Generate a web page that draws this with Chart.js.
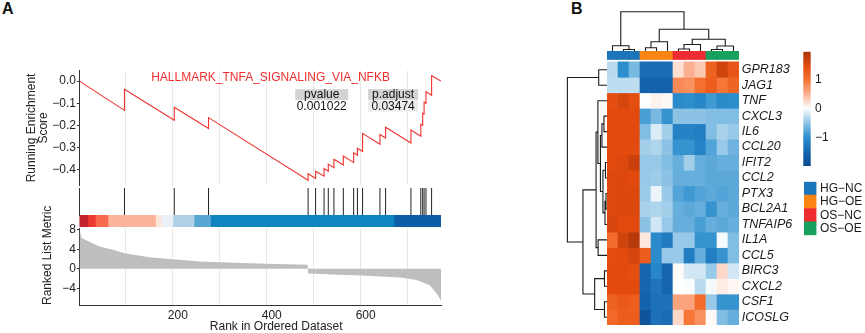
<!DOCTYPE html>
<html>
<head>
  <title>GSEA + heatmap</title>
  <script src="https://cdn.jsdelivr.net/npm/chart.js"></script>
  <style>
    body { margin: 0; background: #fff; }
    #wrap { position: relative; width: 865px; height: 333px; overflow: hidden; background: #fff; }
    canvas { position: absolute; }
    .tag { position: absolute; font: bold 16px 'Liberation Sans', Arial, sans-serif; line-height: 16px; color: #111; }
  </style>
</head>
<body>
<div id="wrap">
  <div class="tag" style="left:2px;top:1px">A</div>
  <div class="tag" style="left:571px;top:1px">B</div>
  <canvas id="es" width="446" height="128" style="left:0;top:60px"></canvas>
  <canvas id="hits" width="446" height="29" style="left:0;top:187px"></canvas>
  <canvas id="cbar" width="446" height="14" style="left:0;top:214px"></canvas>
  <canvas id="metric" width="446" height="143" style="left:0;top:190px"></canvas>
  <canvas id="colTree" width="132" height="52" style="left:607px;top:0"></canvas>
  <canvas id="rowTree" width="48" height="263" style="left:560px;top:62px"></canvas>
  <canvas id="heat" width="200" height="274" style="left:607px;top:51px"></canvas>
  <canvas id="scale" width="40" height="128" style="left:800px;top:45px"></canvas>
  <canvas id="groups" width="65" height="58" style="left:800px;top:180px"></canvas>
</div>

<script>
  // ---- panel A data ----
  const geneSetName = 'HALLMARK_TNFA_SIGNALING_VIA_NFKB';
  const pvalueText = '0.001022';
  const padjustText = '0.03474';
  const rankMin = 1, rankMax = 771;

  // genes of the set (rank in the ordered list) and the running score just before / after each one
  const hitRanks = [97, 203, 276, 488, 504, 522, 531, 543, 563, 585, 593, 604, 641, 653, 707, 728, 732, 735, 739, 751];
  const esBefore = [-0.132, -0.177, -0.214, -0.448, -0.440, -0.429, -0.407, -0.391, -0.379, -0.368, -0.335, -0.318, -0.285, -0.257, -0.279, -0.249, -0.200, -0.149, -0.100, -0.064];
  const esAfter  = [-0.037, -0.118, -0.165, -0.418, -0.407, -0.395, -0.375, -0.353, -0.338, -0.324, -0.303, -0.236, -0.241, -0.208, -0.221, -0.195, -0.145, -0.095, -0.048, 0.024];
  const esStart = 0, esEnd = 0;

  const esTicks = [-0.4, -0.3, -0.2, -0.1, 0];
  const esTickLabels = ['\u22120.4', '\u22120.3', '\u22120.2', '\u22120.1', '0.0'];

  // ranked list metric
  const metricRank  = [1, 6, 21, 44, 72, 97, 150, 200, 257, 328, 399, 487, 488, 542, 600, 684, 719, 747, 762, 771];
  const metricValue = [8.0, 6.3, 5.6, 4.55, 3.9, 3.2, 2.35, 1.95, 1.5, 1.25, 1.03, 0.82, -0.97, -1.17, -1.38, -1.8, -2.3, -3.4, -5.1, -6.6];
  const metricTicks = [-4, 0, 4, 8];
  const metricTickLabels = ['\u22124', '0', '4', '8'];

  const gridRanks = [100, 200, 300, 400, 500, 600, 700];
  const rankTickLabels = { 200: '200', 400: '400', 600: '600' };

  // colour strip under the hit lines
  const stripStart = [1, 19, 35, 62, 163, 175, 200, 245, 280, 671];
  const stripEnd   = [19, 35, 62, 163, 175, 200, 245, 280, 671, 771];
  const stripColor = ['#c3232a', '#ec3a31', '#f96b4f', '#fcb49a', '#fde5da', '#ebf0f8', '#afd2e7', '#58a6d2', '#0e85bf', '#0c5ea6'];

  // ---- panel B data ----
  const genes = ['GPR183', 'JAG1', 'TNF', 'CXCL3', 'IL6', 'CCL20', 'IFIT2', 'CCL2', 'PTX3', 'BCL2A1', 'TNFAIP6', 'IL1A', 'CCL5', 'BIRC3', 'CXCL2', 'CSF1', 'ICOSLG'];
  const samples = ['HG-NC1', 'HG-NC2', 'HG-NC3', 'HG-OE1', 'HG-OE2', 'HG-OE3', 'OS-NC1', 'OS-NC2', 'OS-NC3', 'OS-OE1', 'OS-OE2', 'OS-OE3'];
  const groups = ['HG\u2212NC', 'HG\u2212OE', 'OS\u2212NC', 'OS\u2212OE'];
  const sampleGroup = [0, 0, 0, 1, 1, 1, 2, 2, 2, 3, 3, 3];
  const groupColors = ['#1b75ba', '#fb8413', '#ee2b30', '#18a05e'];

  const zscores = [
    [-0.3, -1.0, -0.6, -1.4, -1.4, -1.4, 0.2, 0.5, 0.35, 1.2, 1.65, 1.35],
    [-0.28, -0.28, -0.28, -1.55, -1.55, -1.55, 0.8, 0.75, 1.0, 1.25, 0.95, 1.15],
    [1.45, 1.6, 1.45, 0.0, 0.08, 0.04, -1.05, -1.0, -1.1, -0.9, -1.05, -1.0],
    [1.5, 1.5, 1.5, -0.85, -0.6, -0.95, -0.5, -0.5, -0.5, -0.55, -0.55, -0.55],
    [1.5, 1.5, 1.5, -0.55, -0.15, -0.4, -1.15, -1.15, -1.2, -0.55, -0.38, -0.45],
    [1.5, 1.5, 1.5, -0.4, -0.35, -0.5, -0.95, -0.95, -1.15, -0.8, -0.45, -0.65],
    [1.5, 1.55, 1.7, -0.45, -0.45, -0.55, -0.7, -0.4, -0.7, -0.75, -0.7, -0.7],
    [1.55, 1.55, 1.5, -0.45, -0.42, -0.5, -0.7, -0.7, -0.7, -0.75, -0.75, -0.75],
    [1.55, 1.55, 1.55, -0.43, -0.08, -0.45, -0.8, -0.9, -0.8, -0.75, -0.8, -0.75],
    [1.55, 1.55, 1.55, -0.38, -0.35, -0.4, -0.7, -0.75, -0.7, -0.95, -0.7, -0.75],
    [1.6, 1.5, 1.5, -0.5, -0.2, -0.45, -0.7, -0.7, -0.85, -0.7, -0.75, -0.7],
    [1.05, 1.65, 1.85, 0.15, -1.05, -1.25, -0.45, -0.45, -0.95, -0.95, -0.05, -0.55],
    [1.45, 1.5, 1.6, 1.25, -1.05, -0.45, -0.45, -1.2, -0.7, -1.2, -0.95, -0.55],
    [1.5, 1.5, 1.45, -1.5, -1.1, -1.5, 0.03, -0.2, -0.2, -0.45, 0.25, -0.2],
    [1.5, 1.5, 1.5, -1.5, -1.3, -1.5, 0.0, -0.02, -0.3, -0.05, 0.12, 0.05],
    [1.2, 1.3, 1.25, -1.55, -1.35, -1.35, 0.6, 0.6, 1.05, -0.45, -0.95, -0.95],
    [1.1, 1.25, 1.25, -1.8, -1.35, -1.4, 0.25, 0.95, 0.75, 0.03, -0.55, -0.7]
  ];
  const scaleTicks = [-1, 0, 1];
  const scaleTickLabels = ['\u22121', '0', '1'];

  // hclust style merges: negative = leaf (1-based), positive = earlier merge; third value = height
  const colMerges = [
    [-2, -3, 2.5], [-1, 1, 6.3], [-4, -5, 4.3], [3, -6, 10.3], [-7, -8, 3.0], [5, -9, 7.5],
    [-10, -11, 2.5], [7, -12, 6.0], [6, 8, 12.7], [4, 9, 22.7], [2, 10, 40.3]
  ];
  const rowMerges = [
    [-4, -5, 4.0], [1, -6, 6.0], [-7, -8, 2.5], [-9, -10, 2.0], [4, -11, 3.0], [3, 5, 5.0],
    [2, 6, 7.5], [-3, 7, 10.0], [-12, -13, 9.8], [8, 9, 11.8], [-14, -15, 3.5], [-16, -17, 3.5],
    [11, 12, 13.2], [10, 13, 24.8], [-1, -2, 9.2], [15, 14, 40.2]
  ];

  // ---- styling ----
  const FONT = "'Liberation Sans', Arial, Helvetica, sans-serif";
  const RED = '#f0302c';
  const GRID = '#e8e8e8';
  const AXIS = '#333333';
  const heatStops = [
    [-1.95, '#0a4b8f'], [-1.5, '#1565af'], [-1.0, '#2c8ecd'], [-0.5, '#8cc3e5'], [0, '#ffffff'],
    [0.5, '#fbb091'], [1.0, '#f5702e'], [1.5, '#e24a0e'], [1.95, '#a9340c']
  ];

  Chart.defaults.font.family = FONT;
  Chart.defaults.font.size = 12;
  Chart.defaults.color = '#1a1a1a';
  Chart.defaults.animation = false;
  Chart.defaults.responsive = false;
  Chart.defaults.devicePixelRatio = 1;
  Chart.defaults.events = [];
  Chart.defaults.plugins.legend.display = false;
  Chart.defaults.plugins.tooltip.enabled = false;

  // fixed axis sizes, and no extra room for half tick labels
  const fixWidth = w => s => { s.width = w; s.paddingTop = 0; s.paddingBottom = 0; };
  const fixHeight = h => s => { s.height = h; s.paddingLeft = 0; s.paddingRight = 0; };
  const setTicks = vals => s => { s.ticks = vals.map(v => ({ value: v })); };

  function hex(c) { return [1, 3, 5].map(i => parseInt(c.slice(i, i + 2), 16)); }
  function heatColor(v) {
    if (v <= heatStops[0][0]) return heatStops[0][1];
    for (let i = 1; i < heatStops.length; i++) {
      if (v <= heatStops[i][0]) {
        const [v0, c0] = heatStops[i - 1], [v1, c1] = heatStops[i];
        const t = (v - v0) / (v1 - v0), a = hex(c0), b = hex(c1);
        return 'rgb(' + a.map((x, k) => Math.round(x + (b[k] - x) * t)).join(',') + ')';
      }
    }
    return heatStops[heatStops.length - 1][1];
  }

  // dendrogram -> polyline points (null y breaks the line)
  function treePoints(merges, horizontalLeaves) {
    const pos = [], hgt = [], pts = [];
    const node = id => id < 0 ? [-id - 1 + 0.5, 0] : [pos[id - 1], hgt[id - 1]];
    merges.forEach(([a, b, h], k) => {
      const [pa, ha] = node(a), [pb, hb] = node(b);
      [[pa, ha], [pa, h], [pb, h], [pb, hb]].forEach(([p, v]) =>
        pts.push(horizontalLeaves ? { x: p, y: v } : { x: v, y: p }));
      pts.push(horizontalLeaves ? { x: pb, y: null } : { x: 0, y: null });
      pos[k] = (pa + pb) / 2;
      hgt[k] = h;
    });
    return pts;
  }

  // ---- A: running enrichment score ----
  const esPoints = [{ x: rankMin, y: esStart }];
  hitRanks.forEach((r, i) => { esPoints.push({ x: r, y: esBefore[i] }, { x: r, y: esAfter[i] }); });
  esPoints.push({ x: rankMax, y: esEnd });

  const esText = {
    id: 'esText',
    afterDatasetsDraw(chart) {
      const { ctx, scales: { x, y } } = chart;
      ctx.save();
      ctx.font = '12px ' + FONT;
      ctx.textAlign = 'center';
      ctx.textBaseline = 'middle';
      ctx.fillStyle = RED;
      ctx.fillText(geneSetName, x.getPixelForValue(408), y.getPixelForValue(0.016));
      const cols = [
        { head: 'pvalue', val: pvalueText, at: 517, w: 53, fill: null },
        { head: 'p.adjust', val: padjustText, at: 669, w: 50, fill: '#ececec' }
      ];
      const yh = y.getPixelForValue(-0.061), yv = y.getPixelForValue(-0.113);
      cols.forEach(c => {
        const cx = x.getPixelForValue(c.at);
        ctx.fillStyle = '#d3d3d3';
        ctx.fillRect(cx - c.w / 2, yh - 5.5, c.w, 11);
        if (c.fill) { ctx.fillStyle = c.fill; ctx.fillRect(cx - c.w / 2, yv - 5.5, c.w, 11); }
        ctx.fillStyle = '#111';
        ctx.fillText(c.head, cx, yh);
        ctx.fillText(c.val, cx, yv + 0.5);
      });
      ctx.restore();
    }
  };

  new Chart(document.getElementById('es'), {
    type: 'line',
    data: { datasets: [{ data: esPoints, borderColor: RED, borderWidth: 1.1, pointRadius: 0, tension: 0 }] },
    options: {
      layout: { padding: { top: 10.5, right: 5, bottom: 2.6, left: 0 } },
      scales: {
        x: {
          type: 'linear', min: rankMin, max: rankMax, afterFit: fixHeight(0), afterBuildTicks: setTicks(gridRanks),
          ticks: { display: false }, border: { display: false }, grid: { color: GRID, lineWidth: 1, drawTicks: false }
        },
        y: {
          min: -0.471, max: 0.048, afterFit: fixWidth(79.4), afterBuildTicks: setTicks(esTicks),
          ticks: { padding: 1, color: '#222', callback: (v, i) => esTickLabels[i] },
          grid: { drawOnChartArea: false, tickLength: 2.5, tickColor: AXIS },
          border: { color: AXIS, width: 1 },
          title: { display: true, text: ['Running Enrichment', 'Score'], color: '#222', padding: { top: 26, bottom: 0 }, font: { size: 12, lineHeight: 1 } }
        }
      }
    },
    plugins: [esText]
  });

  // ---- A: hit lines ----
  const hitPoints = [];
  hitRanks.forEach(r => hitPoints.push({ x: r, y: 0 }, { x: r, y: 1 }, { x: r, y: null }));

  new Chart(document.getElementById('hits'), {
    type: 'scatter',
    data: { datasets: [{ data: hitPoints, showLine: true, spanGaps: false, borderColor: '#222', borderWidth: 1, pointRadius: 0 }] },
    options: {
      layout: { padding: { top: 1, right: 5, bottom: 0, left: 0 } },
      scales: {
        x: { type: 'linear', min: rankMin, max: rankMax, display: false },
        y: {
          min: 0, max: 1, afterFit: fixWidth(79.4), ticks: { display: false },
          grid: { display: false, drawTicks: false }, border: { color: AXIS, width: 1 }
        }
      }
    }
  });

  // ---- A: colour strip ----
  new Chart(document.getElementById('cbar'), {
    type: 'bar',
    data: {
      labels: ['strip'],
      datasets: stripStart.map((s, i) => ({ data: [[s, stripEnd[i]]], backgroundColor: stripColor[i] }))
    },
    options: {
      indexAxis: 'y',
      grouped: false,
      categoryPercentage: 1, barPercentage: 1, borderWidth: 0,
      layout: { padding: { top: 1, right: 5, bottom: 1, left: 0 } },
      scales: {
        x: { type: 'linear', min: rankMin, max: rankMax, display: false },
        y: { afterFit: fixWidth(79.4), ticks: { display: false }, grid: { display: false, drawTicks: false }, border: { display: false } }
      }
    }
  });

  // ---- A: ranked list metric ----
  const metricPoints = metricRank.map((r, i) => ({ x: r, y: metricValue[i] }));
  const rankTitle = {
    id: 'rankTitle',
    afterDraw(chart) {
      const { ctx, chartArea } = chart;
      ctx.save();
      ctx.font = '12px ' + FONT;
      ctx.fillStyle = '#222';
      ctx.textAlign = 'center';
      ctx.textBaseline = 'middle';
      ctx.fillText('Rank in Ordered Dataset', (chartArea.left + chartArea.right) / 2 + 16, chart.height - 6);
      ctx.restore();
    }
  };

  new Chart(document.getElementById('metric'), {
    type: 'line',
    data: { datasets: [{ data: metricPoints, borderWidth: 0, borderColor: 'rgba(0,0,0,0)', backgroundColor: '#bebebe', fill: 'origin', pointRadius: 0, tension: 0 }] },
    options: {
      layout: { padding: { top: 38, right: 5, bottom: 0, left: 0 } },
      scales: {
        x: {
          type: 'linear', min: rankMin, max: rankMax, afterFit: fixHeight(28), afterBuildTicks: setTicks(gridRanks),
          ticks: { padding: 0, labelOffset: 5, color: '#222', maxRotation: 0, autoSkip: false, callback: v => rankTickLabels[v] || '' },
          grid: { color: GRID, lineWidth: 1, tickLength: 3, tickColor: 'rgba(0,0,0,0)' },
          border: { color: AXIS, width: 1 }
        },
        y: {
          min: -7.45, max: 8.36, afterFit: fixWidth(79.4), afterBuildTicks: setTicks(metricTicks),
          ticks: { padding: 1, color: '#222', callback: (v, i) => metricTickLabels[i] },
          grid: { drawOnChartArea: false, tickLength: 2.5, tickColor: AXIS },
          border: { color: AXIS, width: 1 },
          title: { display: true, text: 'Ranked List Metric', align: 'start', color: '#222', padding: { top: 41.5, bottom: 0 }, font: { size: 12, lineHeight: 1 } }
        }
      }
    },
    plugins: [rankTitle]
  });

  // ---- B: dendrograms ----
  const treeLine = { showLine: true, spanGaps: false, borderColor: '#1a1a1a', borderWidth: 1.1, pointRadius: 0 };

  new Chart(document.getElementById('colTree'), {
    type: 'scatter',
    data: { datasets: [Object.assign({ data: treePoints(colMerges, true) }, treeLine)] },
    options: {
      scales: {
        x: { type: 'linear', min: 0, max: samples.length, display: false },
        y: { type: 'linear', min: 0, max: 52, display: false }
      }
    }
  });

  new Chart(document.getElementById('rowTree'), {
    type: 'scatter',
    data: { datasets: [Object.assign({ data: treePoints(rowMerges, false) }, treeLine)] },
    options: {
      scales: {
        x: { type: 'linear', min: 0, max: 47.5, reverse: true, display: false },
        y: { type: 'linear', min: 0, max: genes.length, reverse: true, display: false }
      }
    }
  });

  // ---- B: heatmap + column annotation ----
  const heatSets = genes.map((g, r) => ({
    label: g,
    data: samples.map(() => [r, r + 1]),
    backgroundColor: zscores[r].map(heatColor)
  }));
  heatSets.push({
    label: 'group',
    data: samples.map(() => [-0.68, -0.15]),
    backgroundColor: sampleGroup.map(g => groupColors[g])
  });

  new Chart(document.getElementById('heat'), {
    type: 'bar',
    data: { labels: samples, datasets: heatSets },
    options: {
      grouped: false,
      categoryPercentage: 1, barPercentage: 1, borderWidth: 0,
      scales: {
        x: { display: false },
        y: {
          type: 'linear', min: -0.7, max: genes.length, reverse: true, position: 'right',
          afterFit: fixWidth(68), afterBuildTicks: setTicks(genes.map((g, i) => i + 0.5)),
          ticks: { autoSkip: false, padding: 2.7, color: '#1a1a1a', font: { style: 'italic', size: 12.5 }, callback: (v, i) => genes[i] },
          grid: { display: false, drawTicks: false }, border: { display: false }
        }
      }
    }
  });

  // ---- B: colour key ----
  function keyGradient(ctx) {
    const chart = ctx.chart, ca = chart.chartArea;
    if (!ca) return heatStops[4][1];
    const y = chart.scales.y;
    const g = chart.ctx.createLinearGradient(0, ca.bottom, 0, ca.top);
    heatStops.forEach(([v, c]) => g.addColorStop((ca.bottom - y.getPixelForValue(v)) / (ca.bottom - ca.top), c));
    return g;
  }

  new Chart(document.getElementById('scale'), {
    type: 'bar',
    data: { labels: ['key'], datasets: [{ data: [[-1.98, 1.95]], backgroundColor: keyGradient }] },
    options: {
      categoryPercentage: 1, barPercentage: 1, borderWidth: 0,
      layout: { padding: { top: 6.7, right: 0, bottom: 7, left: 3.3 } },
      scales: {
        x: { display: false },
        y: {
          min: -1.98, max: 1.95, position: 'right', afterFit: fixWidth(29.3), afterBuildTicks: setTicks(scaleTicks),
          ticks: { padding: 4.3, color: '#1a1a1a', callback: (v, i) => scaleTickLabels[i] },
          grid: { display: false, drawTicks: false }, border: { display: false }
        }
      }
    }
  });

  // ---- B: group key ----
  new Chart(document.getElementById('groups'), {
    type: 'bar',
    data: { labels: groups, datasets: [{ data: groups.map(() => 1), backgroundColor: groupColors }] },
    options: {
      indexAxis: 'y',
      categoryPercentage: 1, barPercentage: 1, borderWidth: 0,
      layout: { padding: { top: 1.7, right: 0, bottom: 2.7, left: 4 } },
      scales: {
        x: { min: 0, max: 1, display: false },
        y: {
          position: 'right', afterFit: fixWidth(48.5),
          ticks: { autoSkip: false, padding: 3.5, color: '#1a1a1a' },
          grid: { display: false, drawTicks: false }, border: { display: false }
        }
      }
    }
  });
</script>
</body>
</html>
